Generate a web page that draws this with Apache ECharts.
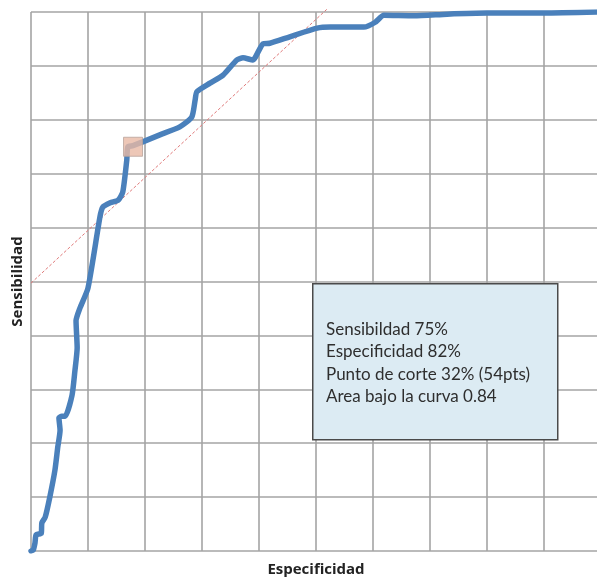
<!DOCTYPE html>
<html>
<head>
<meta charset="utf-8">
<script src="https://cdn.jsdelivr.net/npm/echarts@6/dist/echarts.min.js"></script>
<style>
html,body{margin:0;padding:0;background:#fff;}
#chart{width:597px;height:578px;}
</style>
</head>
<body>
<div id="chart"></div>
<script>
// ROC curve: x = 1 - especificidad, y = sensibilidad
const rocX = [0, 0.004, 0.007, 0.009, 0.018, 0.019, 0.025, 0.033, 0.042, 0.047, 0.051, 0.049, 0.054, 0.060, 0.072, 0.077, 0.081, 0.079, 0.086, 0.100, 0.121, 0.126, 0.139, 0.153, 0.161, 0.168, 0.170, 0.179, 0.196, 0.226, 0.261, 0.282, 0.288, 0.291, 0.314, 0.337, 0.361, 0.372, 0.389, 0.407, 0.419, 0.454, 0.502, 0.525, 0.584, 0.604, 0.619, 0.672, 0.730, 0.800, 0.900, 1.0];
const rocY = [0, 0.002, 0.015, 0.030, 0.033, 0.052, 0.063, 0.100, 0.150, 0.193, 0.224, 0.247, 0.250, 0.250, 0.289, 0.334, 0.377, 0.427, 0.451, 0.488, 0.620, 0.638, 0.646, 0.651, 0.666, 0.725, 0.750, 0.752, 0.759, 0.772, 0.787, 0.805, 0.837, 0.852, 0.868, 0.883, 0.911, 0.915, 0.911, 0.941, 0.942, 0.954, 0.970, 0.972, 0.972, 0.981, 0.994, 0.993, 0.996, 0.998, 0.998, 1.0];
const refLineX = [0, 0.52];
const refLineY = [0.497, 1.006];
const cutPoint = [0.179, 0.750];
const infoLines = ['Sensibildad 75%', 'Especificidad 82%', 'Punto de corte 32% (54pts)', 'Area bajo la curva 0.84'];
const xTitle = 'Especificidad';
const yTitle = 'Sensibilidad';

const roc = rocX.map((x, i) => [x, rocY[i]]);
const ref = refLineX.map((x, i) => [x, refLineY[i]]);

const chart = echarts.init(document.getElementById('chart'), null, {renderer: 'canvas'});
const gridStyle = {color: '#a4a4a4', width: 1.6};
chart.setOption({
  animation: false,
  backgroundColor: '#ffffff',
  grid: {left: 31, right: -4, top: 12, bottom: 27, containLabel: false, outerBoundsMode: 'none'},
  xAxis: {
    type: 'value', min: 0, max: 1, interval: 0.1,
    name: xTitle, nameLocation: 'middle', nameGap: 11,
    nameTextStyle: {fontFamily: 'Open Sans', fontWeight: 'bold', fontSize: 15, color: '#222'},
    axisLine: {show: false}, axisTick: {show: false}, axisLabel: {show: false},
    splitLine: {show: true, lineStyle: gridStyle}
  },
  yAxis: {
    type: 'value', min: 0, max: 1, interval: 0.1,
    name: yTitle, nameLocation: 'middle', nameGap: 6, nameRotate: 90,
    nameTextStyle: {fontFamily: 'Open Sans', fontWeight: 'bold', fontSize: 15, color: '#222'},
    axisLine: {show: false}, axisTick: {show: false}, axisLabel: {show: false},
    splitLine: {show: true, lineStyle: gridStyle}
  },
  series: [
    {
      type: 'line', data: ref, symbol: 'none', clip: false, z: 2,
      lineStyle: {color: '#e07a7a', width: 1, type: [3, 2]}
    },
    {
      type: 'line', data: roc, symbol: 'none', smooth: 0.2, z: 3,
      lineStyle: {color: '#4a80bb', width: 5.5, cap: 'round', join: 'round'}
    },
    {
      type: 'scatter', data: [cutPoint], symbol: 'rect', symbolSize: 19, z: 4,
      itemStyle: {color: '#e9b9a5', borderColor: '#b9a49b', borderWidth: 1}
    }
  ],
  graphic: [
    {
      type: 'rect', left: 312, top: 283, z: 10,
      shape: {width: 245, height: 156},
      style: {fill: '#dcebf3', stroke: '#4a4a4a', lineWidth: 1.5}
    },
    {
      type: 'text', left: 326, top: 318, z: 11,
      style: {
        text: infoLines.join('\n'),
        font: '17px Lato',
        lineHeight: 22.5,
        fill: '#2e2e2e'
      }
    }
  ]
});
</script>
</body>
</html>
